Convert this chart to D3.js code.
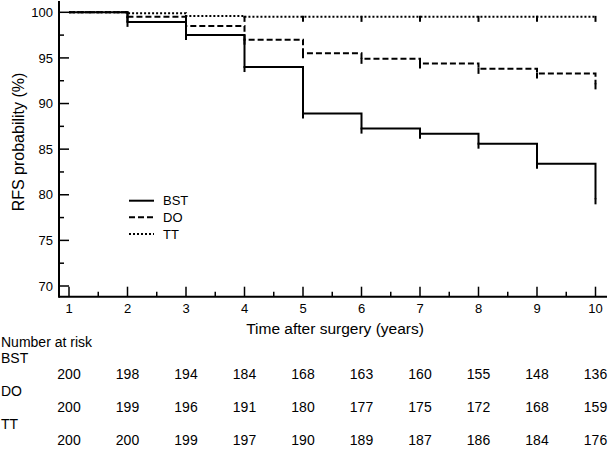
<!DOCTYPE html>
<html>
<head>
<meta charset="utf-8">
<script src="https://cdn.jsdelivr.net/npm/d3@7"></script>
<style>
  html, body { margin: 0; padding: 0; background: #fff; }
  svg { display: block; }
  text { font-family: "Liberation Sans", Arial, sans-serif; fill: #000; }
</style>
</head>
<body>
<script>
// ---- data ----
const years = [1, 2, 3, 4, 5, 6, 7, 8, 9, 10];
const groups = ["BST", "DO", "TT"];
const bstRFS = [100, 98.95, 97.5, 94.0, 88.9, 87.25, 86.7, 85.6, 83.4, 79.5];
const doRFS  = [100, 99.5, 98.5, 97.0, 95.5, 94.9, 94.4, 93.8, 93.3, 92.1];
const ttRFS  = [100, 99.9, 99.6, 99.5, 99.5, 99.5, 99.5, 99.5, 99.5, 99.5];
const bstRisk = [200, 198, 194, 184, 168, 163, 160, 155, 148, 136];
const doRisk  = [200, 199, 196, 191, 180, 177, 175, 172, 168, 159];
const ttRisk  = [200, 200, 199, 197, 190, 189, 187, 186, 184, 176];
const yTicks = [70, 75, 80, 85, 90, 95, 100];
const yMinorTicks = [72.5, 77.5, 82.5, 87.5, 92.5, 97.5];
const xMinorTicks = [1.5, 2.5, 3.5, 4.5, 5.5, 6.5, 7.5, 8.5, 9.5];

const series = [
  { name: "BST", values: bstRFS, risk: bstRisk, dash: null },
  { name: "DO",  values: doRFS,  risk: doRisk,  dash: "6,3" },
  { name: "TT",  values: ttRFS,  risk: ttRisk,  dash: "2,2" }
];

const W = 609, H = 449;
const svg = d3.select("body").append("svg").attr("width", W).attr("height", H);

const x = d3.scaleLinear().domain([1, 10]).range([69, 595.5]);
const y = d3.scaleLinear().domain([70, 100]).range([286, 12.3]);
const axisY = 296.7, axisX = 59;

// axes lines
svg.append("line").attr("x1", axisX).attr("x2", 607).attr("y1", axisY).attr("y2", axisY)
  .attr("stroke", "#000").attr("stroke-width", 2);
svg.append("line").attr("x1", axisX).attr("x2", axisX).attr("y1", 1).attr("y2", axisY + 1)
  .attr("stroke", "#000").attr("stroke-width", 2);

// y ticks (inward)
svg.selectAll(".ytick").data(yTicks).enter().append("line")
  .attr("x1", axisX).attr("x2", axisX + 10).attr("y1", d => y(d)).attr("y2", d => y(d))
  .attr("stroke", "#000").attr("stroke-width", 1.5);
svg.selectAll(".ytickm").data(yMinorTicks).enter().append("line")
  .attr("x1", axisX).attr("x2", axisX + 5).attr("y1", d => y(d)).attr("y2", d => y(d))
  .attr("stroke", "#000").attr("stroke-width", 1.5);
svg.selectAll(".ylab").data(yTicks).enter().append("text")
  .attr("x", 53).attr("y", d => y(d) + 4.6).attr("text-anchor", "end")
  .style("font-size", "13px").text(d => d);

// x ticks (inward)
svg.selectAll(".xtick").data(years).enter().append("line")
  .attr("x1", d => x(d)).attr("x2", d => x(d)).attr("y1", axisY).attr("y2", axisY - 10)
  .attr("stroke", "#000").attr("stroke-width", 1.5);
svg.selectAll(".xtickm").data(xMinorTicks).enter().append("line")
  .attr("x1", d => x(d)).attr("x2", d => x(d)).attr("y1", axisY).attr("y2", axisY - 5)
  .attr("stroke", "#000").attr("stroke-width", 1.5);
svg.selectAll(".xlab").data(years).enter().append("text")
  .attr("x", d => x(d)).attr("y", 313).attr("text-anchor", "middle")
  .style("font-size", "13px").text(d => d);

// axis titles
svg.append("text").attr("x", 335).attr("y", 334).attr("text-anchor", "middle")
  .style("font-size", "15.5px").text("Time after surgery (years)");
svg.append("text").attr("transform", "translate(24,142) rotate(-90)").attr("text-anchor", "middle")
  .style("font-size", "16px").text("RFS probability (%)");

// curves
const tickLen = 5;
series.forEach(s => {
  let p = d3.path();
  p.moveTo(x(years[0]), y(s.values[0]));
  for (let i = 1; i < years.length; i++) {
    p.lineTo(x(years[i]), y(s.values[i - 1]));
    p.lineTo(x(years[i]), y(s.values[i]));
  }
  svg.append("path").attr("d", p.toString()).attr("fill", "none")
    .attr("stroke", "#000").attr("stroke-width", 2)
    .attr("stroke-dasharray", s.dash);
  // censor ticks
  svg.selectAll(null).data(years.slice(1).map((t, i) => ({ t, v: s.values[i + 1] })))
    .enter().append("line")
    .attr("x1", d => x(d.t)).attr("x2", d => x(d.t))
    .attr("y1", d => y(d.v) - 1).attr("y2", d => y(d.v) + tickLen)
    .attr("stroke", "#000").attr("stroke-width", 2);
});

// legend
const legY = [200.7, 217.3, 234];
series.forEach((s, i) => {
  svg.append("line").attr("x1", 129).attr("x2", 154).attr("y1", legY[i]).attr("y2", legY[i])
    .attr("stroke", "#000").attr("stroke-width", 2).attr("stroke-dasharray", s.dash);
  svg.append("text").attr("x", 163).attr("y", legY[i] + 4.6)
    .style("font-size", "13px").text(s.name);
});

// number at risk table
const rowBase = 346.5, rowStep = 16.4;
svg.append("text").attr("x", 1).attr("y", rowBase).style("font-size", "14px").text("Number at risk");
series.forEach((s, i) => {
  svg.append("text").attr("x", 1).attr("y", rowBase + rowStep * (2 * i + 1))
    .style("font-size", "14px").text(s.name);
  svg.selectAll(null).data(s.risk).enter().append("text")
    .attr("x", (d, j) => x(years[j])).attr("y", rowBase + rowStep * (2 * i + 2))
    .attr("text-anchor", "middle").style("font-size", "14px").text(d => d);
});
</script>
</body>
</html>
